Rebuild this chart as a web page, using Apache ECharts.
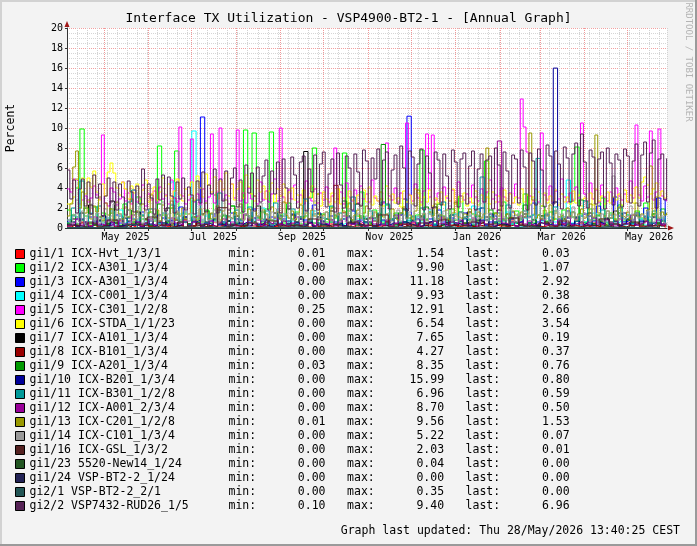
<!DOCTYPE html>
<html>
<head>
<meta charset="utf-8">
<script src="https://cdn.jsdelivr.net/npm/echarts@6/dist/echarts.min.js"></script>
<style>
  html, body { margin: 0; padding: 0; background: #f3f3f3; }
  #chart-panel { width: 697px; height: 546px; }
</style>
</head>
<body>
<div id="chart-panel"></div>
<script>
var DAY = 86400000;
var T0 = Date.UTC(2025, 3, 5, 5, 0);     // graph start
var TEND = Date.UTC(2026, 4, 28, 11, 40); // graph end (13:40 CEST)

var monthStarts = ['2025-05-01', '2025-06-01', '2025-07-01', '2025-08-01', '2025-09-01', '2025-10-01',
  '2025-11-01', '2025-12-01', '2026-01-01', '2026-02-01', '2026-03-01', '2026-04-01', '2026-05-01'];
var labelDates = ['2025-05-16', '2025-07-16', '2025-09-16', '2025-11-16', '2026-01-16', '2026-03-16', '2026-05-16'];
var monthNames = ['Jan', 'Feb', 'Mar', 'Apr', 'May', 'Jun', 'Jul', 'Aug', 'Sep', 'Oct', 'Nov', 'Dec'];

var names = ['gi1/1 ICX-Hvt_1/3/1', 'gi1/2 ICX-A301_1/3/4', 'gi1/3 ICX-A301_1/3/4', 'gi1/4 ICX-C001_1/3/4',
  'gi1/5 ICX-C301_1/2/8', 'gi1/6 ICX-STDA_1/1/23', 'gi1/7 ICX-A101_1/3/4', 'gi1/8 ICX-B101_1/3/4',
  'gi1/9 ICX-A201_1/3/4', 'gi1/10 ICX-B201_1/3/4', 'gi1/11 ICX-B301_1/2/8', 'gi1/12 ICX-A001_2/3/4',
  'gi1/13 ICX-C201_1/2/8', 'gi1/14 ICX-C101_1/3/4', 'gi1/16 ICX-GSL_1/3/2', 'gi1/23 5520-New14_1/24',
  'gi1/24 VSP-BT2-2_1/24', 'gi2/1 VSP-BT2-2_2/1', 'gi2/2 VSP7432-RUD26_1/5'];
var colors = ['#ff0000', '#00ff00', '#0000ff', '#00ffff', '#ff00ff', '#ffff00', '#000000', '#990000',
  '#009900', '#000099', '#009999', '#990099', '#999900', '#999999', '#552222', '#225522',
  '#222255', '#225555', '#552255'];
var mins = ['0.01', '0.00', '0.00', '0.00', '0.25', '0.00', '0.00', '0.00', '0.03', '0.00',
  '0.00', '0.00', '0.01', '0.00', '0.00', '0.00', '0.00', '0.00', '0.10'];
var maxs = ['1.54', '9.90', '11.18', '9.93', '12.91', '6.54', '7.65', '4.27', '8.35', '15.99',
  '6.96', '8.70', '9.56', '5.22', '2.03', '0.04', '0.00', '0.35', '9.40'];
var lasts = ['0.03', '1.07', '2.92', '0.38', '2.66', '3.54', '0.19', '0.37', '0.76', '0.80',
  '0.59', '0.50', '1.53', '0.07', '0.01', '0.00', '0.00', '0.00', '6.96'];

// sample spacing in days for each series
var steps = [3, 3, 3, 3, 2, 2, 3, 3, 3, 3, 3, 3, 2, 2, 7, 7, 7, 7, 2];

var gi1_1 = [0.2,0.4,0.1,0.6,0.3,0.2,0.5,0.1,0.3,0.2, 0.4,0.1,0.7,0.2,0.3,0.1,0.5,0.2,0.4,0.1,
  0.3,0.6,0.2,0.1,0.4,0.2,0.3,0.8,0.1,0.2, 0.5,0.2,0.1,0.3,0.6,0.2,0.4,0.1,0.3,0.2,
  0.1,0.4,0.2,0.5,0.1,0.3,0.9,0.2,0.1,0.4, 0.2,0.3,0.1,0.6,0.2,0.4,0.1,0.3,0.5,0.2,
  0.1,0.4,0.2,0.3,1.54,0.2,0.1,0.5,0.3,0.2, 0.4,0.1,0.3,0.2,0.6,0.1,0.2,0.4,0.3,0.1,
  0.5,0.2,0.1,0.3,0.2,0.7,0.1,0.4,0.2,0.3, 0.1,0.5,0.2,0.3,0.1,0.4,0.6,0.2,0.1,0.3,
  0.2,0.4,0.1,0.8,0.2,0.3,0.1,0.5,0.2,0.4, 0.1,0.3,0.6,0.2,0.1,0.4,0.2,0.3,0.9,0.1,
  0.3,0.2,0.5,0.1,0.4,0.2,0.3,0.6,0.2,0.4, 0.8,0.3,0.5,0.2,0.7,0.4,0.6,0.3,0.5,0.03];
var gi1_2 = [1.8,0.6,4.0,9.9,1.2,0.4,2.1,0.7,1.5,0.5, 1.9,0.8,0.3,2.4,1.1,0.6,3.1,0.9,0.4,1.6,
  0.7,8.2,1.3,0.5,2.0,7.7,0.8,1.4,0.4,2.7, 1.0,0.6,1.8,0.9,3.3,0.5,1.2,0.7,2.2,0.4,
  1.5,9.8,0.8,9.5,1.1,0.6,1.9,9.6,0.7,1.3, 0.5,2.5,0.9,1.6,0.4,1.2,3.0,8.0,0.8,1.4,
  0.6,2.1,1.0,0.5,7.5,1.7,0.7,1.2,3.6,0.9, 0.4,1.8,1.1,0.6,2.3,0.8,1.5,0.5,2.9,1.0,
  0.7,1.3,7.8,0.9,1.6,0.4,2.4,1.2,0.6,1.9, 0.8,3.2,1.1,0.5,1.4,0.7,2.0,6.7,0.9,1.5,
  0.6,2.6,1.0,0.4,1.7,0.8,3.4,1.2,0.5,1.3, 2.2,0.7,1.6,0.9,0.4,1.8,1.1,2.7,8.1,1.4,
  0.6,1.9,0.8,1.2,3.0,0.5,1.5,0.9,2.3,0.7, 1.3,0.6,1.7,1.0,2.5,0.8,1.4,0.5,1.9,1.07];
var gi1_3 = [0.6,0.3,0.9,0.2,0.5,1.1,0.4,0.7,0.2,0.8, 0.3,1.3,0.5,0.2,0.6,0.9,0.3,1.6,0.4,0.7,
  0.2,0.5,1.0,0.3,0.8,0.4,2.1,0.6,0.3,0.9, 0.5,11.1,0.4,0.7,1.2,0.3,0.6,0.2,1.5,0.4,
  0.8,0.3,0.6,1.9,0.4,0.7,0.2,1.1,0.5,0.3, 0.9,0.4,1.4,0.6,0.2,0.8,0.5,2.3,0.3,0.7,
  0.4,1.2,0.6,0.3,0.9,0.5,1.7,0.4,0.8,0.2, 0.6,1.0,0.3,2.6,0.5,0.8,0.4,1.3,0.6,11.18,
  0.7,0.3,1.1,0.5,0.9,0.2,1.8,0.6,0.4,1.0, 0.3,0.7,1.5,0.4,0.8,0.5,2.0,0.3,0.6,1.2,
  0.4,0.9,0.3,1.6,0.5,0.7,0.2,1.1,2.5,0.6, 0.4,1.3,0.8,0.3,0.9,0.5,1.7,0.4,1.0,0.6,
  1.4,0.3,0.7,2.2,0.5,0.9,0.4,3.1,1.2,0.6, 0.8,0.4,1.5,0.7,2.0,0.5,1.1,3.0,0.8,2.92];
var gi1_4 = [0.5,1.2,4.9,0.8,0.3,1.5,0.6,0.2,1.0,0.4, 0.7,0.3,1.8,0.5,0.2,0.9,0.4,1.3,0.6,0.3,
  1.1,0.5,0.2,0.8,4.6,0.4,1.4,0.6,0.3,9.7, 0.9,0.4,1.2,0.2,0.7,1.6,0.5,0.3,1.0,0.6,
  0.2,1.3,0.4,0.8,0.3,2.0,0.6,0.2,0.9,0.5, 1.4,0.3,0.7,0.4,1.1,0.2,0.8,1.7,0.5,0.3,
  0.9,0.6,1.2,0.3,0.5,2.4,0.4,0.8,0.2,1.0, 0.6,0.3,1.5,0.7,0.4,0.9,0.2,1.3,0.5,0.8,
  0.3,1.1,0.6,0.2,1.8,0.4,0.7,0.3,1.0,0.5, 1.4,0.6,0.3,0.9,2.2,0.4,0.7,0.2,1.2,0.5,
  0.3,0.8,1.6,0.4,0.6,0.2,1.0,0.5,1.3,0.3, 0.7,0.4,1.1,0.6,0.2,0.9,4.8,0.5,0.3,1.2,
  0.6,0.4,1.5,0.3,0.8,0.2,1.0,0.5,0.7,0.3, 1.3,0.4,0.6,0.9,0.3,1.1,0.5,0.2,0.7,0.38];
var gi1_5 = [3.9,3.6,4.9,4.7,2.4,2.8,3.2,2.6,3.0,4.2, 3.3,2.9,9.3,2.5,2.2,4.0,3.6,2.3,2.9,4.6,
  2.7,3.5,2.4,3.8,2.6,3.1,4.3,2.2,3.4,2.8, 3.7,2.5,4.1,2.9,3.3,2.4,4.8,3.0,2.6,10.1,
  3.2,2.4,2.8,8.9,2.6,3.4,2.3,3.9,2.7,3.1, 9.4,2.5,3.6,10.0,2.8,3.3,2.4,4.4,3.0,9.8,
  2.7,3.5,2.5,4.0,2.9,3.2,2.4,4.6,2.8,3.7, 2.6,3.4,4.9,2.7,10.0,3.1,2.5,3.8,2.9,4.3,
  2.6,3.3,2.4,4.7,3.0,2.7,3.9,2.5,3.5,2.8, 4.1,2.6,3.2,8.0,2.9,3.6,2.4,4.5,3.1,2.7,
  3.8,2.5,4.2,2.9,3.4,2.6,4.8,3.0,2.7,3.6, 2.5,8.5,3.2,2.8,4.0,2.6,3.5,2.9,10.5,3.3,
  2.7,4.4,3.0,2.6,3.7,9.4,3.1,9.3,2.8,3.5, 2.6,4.1,3.0,2.7,3.8,2.5,4.6,3.2,2.8,3.4,
  2.6,4.3,3.1,2.7,3.9,2.5,3.6,4.8,2.9,3.3, 2.6,4.0,3.1,2.7,3.5,2.5,4.4,3.0,12.9,10.1,
  7.6,3.2,2.7,3.9,2.6,9.5,3.3,2.8,4.2,2.6, 3.7,2.9,4.9,3.1,2.6,3.5,2.8,4.1,3.0,10.5,
  3.4,2.7,4.5,2.9,3.8,2.6,4.3,3.1,2.7,3.6, 2.5,4.0,3.2,2.8,3.4,2.6,4.7,3.0,10.3,3.3,
  2.7,4.2,3.1,9.7,2.8,3.6,9.9,3.2,2.9,2.66];
var gi1_6 = [2.4,2.6,3.1,4.9,2.3,5.0,3.4,5.0,4.1,5.7, 3.6,2.8,4.4,3.2,5.6,6.5,5.5,4.0,3.3,4.6,
  3.9,2.9,4.2,3.5,4.4,2.7,3.8,4.8,2.6,3.4, 4.1,2.8,3.6,5.0,3.2,4.4,2.9,3.7,4.9,3.3,
  2.7,3.9,3.3,4.6,2.8,5.2,4.0,3.1,5.4,4.3, 3.6,5.1,2.9,4.7,3.8,5.5,3.2,4.4,2.8,3.9,
  4.6,3.0,5.3,4.1,3.4,2.7,4.8,3.6,4.2,2.9, 3.7,4.5,2.6,3.9,3.2,4.4,2.5,3.6,4.0,2.8,
  3.3,2.4,3.8,2.7,3.1,4.2,2.5,3.4,2.2,3.6, 2.9,2.3,3.5,2.6,3.9,2.4,3.0,2.1,3.7,2.8,
  2.4,3.3,2.2,3.8,2.6,4.1,2.3,3.2,2.7,3.6, 2.2,4.2,2.8,3.4,2.5,3.0,2.1,3.7,2.6,3.3,
  2.4,3.9,3.5,2.3,3.1,2.6,3.8,2.2,3.0,2.5, 3.6,2.3,3.2,2.7,3.9,2.4,3.1,2.6,3.5,2.2,
  3.0,2.5,3.7,2.3,3.3,2.8,3.1,2.4,3.6,2.6, 3.2,2.2,3.8,2.7,3.4,2.5,3.1,2.3,3.9,2.6,
  3.3,2.4,3.1,2.8,3.6,2.2,3.5,2.5,3.2,2.7, 3.8,2.3,3.4,2.6,3.1,2.4,3.7,2.5,3.3,2.2,
  3.0,2.6,3.5,2.3,3.9,2.7,3.2,2.4,3.6,2.5, 3.1,2.8,3.4,2.3,3.8,2.6,3.3,2.5,4.1,3.0,
  4.6,5.1,4.3,3.4,3.9,4.5,3.2,3.7,3.0,3.54];
var gi1_7 = [0.4,0.9,0.2,1.5,0.6,2.3,0.3,0.8,1.2,0.4, 2.7,0.5,0.2,1.0,0.7,0.3,1.6,0.4,0.9,0.2,
  1.3,0.6,0.3,2.0,0.5,0.8,0.2,1.1,0.4,0.7, 0.3,1.4,0.6,0.2,0.9,1.8,0.4,0.7,0.3,1.2,
  0.5,0.2,1.0,0.6,2.2,0.3,0.8,0.4,1.5,0.2, 0.7,0.4,1.3,0.3,0.9,7.65,0.5,0.2,1.1,0.6,
  0.3,1.7,0.4,0.8,0.2,1.2,0.5,2.4,0.3,0.9, 0.6,0.2,1.4,0.4,0.7,0.3,1.0,0.5,1.9,0.2,
  0.8,0.4,1.2,0.3,0.6,2.1,0.2,0.9,0.5,1.3, 0.3,0.7,0.4,1.6,0.2,0.8,0.5,1.1,0.3,0.6,
  1.8,0.4,0.2,1.0,0.6,0.3,1.4,0.5,0.8,0.2, 1.2,0.4,0.7,2.6,0.3,0.9,0.5,0.2,1.1,0.6,
  0.3,1.5,0.4,0.8,0.2,1.0,0.6,1.7,0.3,0.5, 0.9,0.2,1.3,0.4,0.7,0.3,1.1,0.5,0.2,0.19];
var gi1_8 = [0.1,0.3,0.2,0.5,0.1,0.2,0.4,0.1,0.3,0.2, 0.6,0.1,0.2,0.3,0.1,0.4,0.2,0.1,0.5,0.2,
  0.1,0.3,0.2,0.7,0.1,0.2,0.4,0.1,0.3,0.2, 0.5,0.1,0.2,0.3,0.1,0.6,0.2,0.1,0.4,0.2,
  0.1,0.3,0.8,0.2,0.1,0.4,0.2,0.1,0.3,0.5, 0.2,0.1,0.4,0.2,0.1,0.3,0.6,0.2,0.1,0.4,
  0.2,0.1,4.27,0.3,0.2,0.1,0.5,0.2,0.1,0.3, 0.2,0.7,0.1,0.3,0.2,0.1,0.4,0.2,0.1,0.5,
  0.2,0.1,0.3,0.2,0.6,0.1,0.2,0.4,0.1,0.3, 0.2,0.1,0.5,0.2,0.1,0.3,0.2,0.8,0.1,0.2,
  0.4,0.1,0.2,0.3,0.1,0.5,0.2,0.1,0.3,0.2, 0.1,0.6,0.2,0.1,0.4,0.2,0.1,0.3,0.2,0.5,
  0.1,0.2,0.3,0.1,0.7,0.2,0.1,0.4,0.2,0.1, 0.3,0.2,0.5,0.1,0.2,0.4,0.1,0.3,0.2,0.37];
var gi1_9 = [0.5,1.3,0.4,0.8,2.0,0.6,0.3,1.1,0.7,0.4, 1.5,0.5,0.9,0.3,1.8,0.6,0.4,1.2,0.8,0.3,
  1.0,2.4,0.5,0.7,0.3,1.4,0.6,0.9,0.4,1.1, 0.6,0.3,1.7,0.5,0.8,0.4,1.3,0.7,2.2,0.5,
  0.9,0.4,1.2,0.6,0.3,1.6,0.5,0.8,0.4,1.0, 0.7,1.9,0.3,0.6,1.1,0.4,0.8,0.5,1.4,0.3,
  0.9,0.6,1.3,0.4,2.7,0.5,0.8,0.3,1.2,0.6, 0.4,1.0,0.7,8.35,0.5,0.9,0.3,1.5,0.6,0.4,
  1.1,0.5,0.8,2.1,0.4,0.7,1.3,0.3,0.9,0.6, 0.4,1.6,0.5,0.8,0.3,1.2,0.7,0.4,1.8,0.5,
  0.9,0.3,1.4,0.6,0.4,1.0,2.3,0.5,0.8,0.3, 1.2,0.6,0.4,1.7,0.5,0.9,0.3,1.1,0.7,2.8,
  0.5,0.8,0.4,1.3,0.6,0.3,1.0,0.7,1.5,0.4, 0.8,0.5,1.2,0.3,0.9,0.6,1.4,0.4,0.7,0.76];
var gi1_10 = [0.3,0.6,0.2,0.9,0.4,0.1,0.7,0.3,1.2,0.2, 0.5,0.8,0.2,0.4,1.0,0.3,0.6,0.1,0.9,0.4,
  0.2,1.3,0.5,0.3,0.7,0.2,0.4,1.1,0.3,0.6, 0.8,0.2,0.5,0.3,1.4,0.4,0.2,0.7,0.3,0.9,
  0.4,0.6,0.2,1.0,0.3,0.5,0.8,0.2,0.4,1.2, 0.3,0.7,0.2,0.5,0.9,0.3,0.6,0.2,1.5,0.4,
  0.2,0.8,0.3,0.5,0.2,1.1,0.4,0.7,0.3,0.6, 1.0,0.2,0.4,0.8,0.3,0.5,1.3,0.2,0.6,0.4,
  0.3,0.9,0.2,0.5,0.7,0.3,1.2,0.4,0.2,0.8, 0.5,0.3,1.0,0.2,0.6,0.4,0.8,0.3,1.4,0.2,
  0.7,0.4,0.3,0.9,0.2,0.6,1.1,0.3,0.5,0.2, 0.8,0.4,0.3,15.99,0.6,0.2,1.0,0.4,0.7,0.3,
  0.5,1.2,0.2,0.6,0.4,0.9,0.3,0.7,0.2,1.5, 0.4,0.8,0.3,0.6,1.1,0.2,0.5,0.9,0.4,0.80];
var gi1_11 = [0.8,2.0,1.1,4.7,0.6,1.4,0.9,2.2,0.5,1.0, 1.7,0.7,1.2,0.4,2.6,3.8,0.8,1.3,0.5,1.9,
  0.9,0.4,1.5,0.7,2.3,1.0,0.6,1.6,0.3,1.1, 2.8,0.8,0.5,1.4,0.9,3.5,0.6,1.2,0.4,1.8,
  0.7,1.3,2.1,0.5,1.0,0.8,1.7,0.4,2.5,0.9, 1.2,0.6,1.9,0.3,1.1,2.9,0.7,1.4,0.5,1.0,
  0.8,2.2,0.4,1.5,0.9,1.2,3.1,0.6,1.0,0.5, 1.7,0.8,1.3,0.4,2.4,0.9,1.1,0.6,1.8,0.7,
  1.2,0.5,2.0,0.8,1.4,0.3,1.0,2.6,0.7,1.3, 0.5,1.6,0.9,1.2,0.4,1.9,5.1,0.8,1.1,0.6,
  1.5,0.7,2.3,0.4,1.0,0.8,1.7,0.5,1.3,6.96, 0.9,1.4,0.6,2.1,0.8,1.1,0.4,1.6,0.7,1.2,
  2.7,0.5,1.0,0.8,1.8,0.6,1.3,0.4,2.0,0.9, 1.1,0.5,1.5,0.8,1.2,0.4,1.7,0.7,1.0,0.59];
var gi1_12 = [0.2,0.5,0.9,0.3,0.6,0.2,1.1,0.4,0.3,0.7, 0.5,0.2,0.8,0.4,0.3,1.3,0.6,0.2,0.5,0.9,
  0.3,0.7,0.2,0.4,1.0,0.5,0.3,0.8,0.2,0.6, 1.2,0.4,0.3,0.7,0.2,0.5,0.9,0.3,0.6,0.2,
  0.4,1.4,0.5,0.3,0.8,0.2,0.6,0.4,1.0,0.3, 0.7,0.2,0.5,1.1,0.3,0.6,0.4,0.2,0.9,0.5,
  0.3,0.8,0.2,0.6,1.2,0.4,0.3,0.7,0.5,0.2, 1.0,0.4,0.6,0.3,0.8,0.2,0.5,1.3,0.4,0.3,
  0.6,0.2,0.9,0.5,0.3,0.7,0.4,1.1,0.2,0.6, 0.4,0.8,0.3,0.5,1.0,0.2,0.7,0.4,0.3,0.9,
  8.7,0.5,0.3,0.6,0.2,1.2,0.4,0.7,0.3,0.5, 0.9,0.3,0.6,0.2,0.8,0.4,1.1,0.3,0.5,0.7,
  0.2,0.6,1.0,0.4,0.3,0.8,0.5,0.2,0.9,0.4, 0.6,1.3,0.3,0.5,0.7,0.2,0.4,0.8,0.3,0.50];
var gi1_13 = [1.2,2.4,6.1,7.7,2.0,3.6,1.5,2.8,0.9,2.2, 1.6,3.1,0.8,2.5,1.3,1.9,0.7,2.6,1.4,0.9,
  2.1,1.1,2.9,0.8,1.7,1.2,2.4,0.9,1.5,3.3, 1.0,1.8,0.7,2.3,1.3,1.0,2.7,0.8,1.6,1.2,
  2.0,0.9,1.4,3.0,1.1,0.8,1.9,1.3,2.5,0.9, 1.5,1.0,2.2,0.8,1.7,2.8,1.1,0.9,1.6,1.2,
  2.4,0.8,1.3,1.9,1.0,3.2,1.2,0.9,1.8,1.4, 0.8,2.1,1.1,1.6,0.9,2.6,1.3,1.0,1.7,0.8,
  1.4,2.3,1.0,1.5,0.9,1.8,1.2,3.4,0.9,1.3, 1.6,0.8,2.0,1.1,1.4,0.9,1.7,1.2,2.5,0.8,
  1.3,1.8,1.0,1.5,2.2,0.9,1.2,1.6,0.8,2.9, 1.1,1.4,0.9,1.9,1.2,0.8,1.5,2.1,1.0,1.3,
  0.9,1.7,3.8,1.1,1.4,0.8,1.6,1.2,2.4,0.9, 1.3,1.0,1.8,0.8,1.5,2.6,1.1,0.9,1.4,1.2,
  1.9,0.8,1.3,1.6,1.0,1.4,8.0,1.1,0.9,1.5, 1.2,2.2,0.8,1.4,1.0,1.7,1.3,0.9,1.6,1.1,
  1.4,9.5,2.8,1.0,1.3,0.9,1.8,1.2,2.3,0.8, 1.5,1.1,1.3,0.9,2.0,1.2,1.6,0.8,1.4,1.9,
  1.0,1.3,2.4,1.1,9.3,1.5,0.9,1.2,1.7,1.0, 1.4,0.8,2.1,1.2,1.0,1.6,0.9,1.3,2.5,1.1,
  1.4,0.9,1.8,6.2,1.2,3.1,1.0,1.6,1.3,1.53];
var gi1_14 = [0.8,0.5,1.2,2.8,0.6,1.7,0.4,1.3,2.1,0.7, 1.5,0.5,1.0,1.9,0.6,1.2,2.4,0.8,1.4,0.5,
  1.1,1.8,0.6,1.3,0.9,2.2,0.5,1.6,1.0,0.7, 1.9,0.6,1.2,2.6,0.8,1.4,0.5,1.1,1.7,0.6,
  1.3,2.0,0.7,1.5,0.9,1.1,2.3,0.6,1.4,0.8, 1.0,1.8,0.5,1.2,2.9,0.7,1.5,0.9,1.3,0.6,
  2.1,0.8,1.4,1.0,1.7,0.5,1.2,2.5,0.7,1.3, 0.9,1.6,0.6,1.9,1.1,0.7,1.4,2.2,0.8,1.0,
  1.5,0.6,1.3,1.8,0.7,1.1,2.7,0.9,1.2,0.5, 1.6,1.0,0.7,2.0,1.3,0.8,1.5,0.6,1.9,1.1,
  0.7,1.4,2.3,0.8,1.2,0.6,1.7,1.0,0.5,2.1, 1.3,0.8,1.5,0.6,1.1,1.8,0.7,1.3,0.9,1.6,
  2.4,0.7,1.2,0.9,1.5,0.6,1.9,1.1,0.8,1.4, 0.6,1.7,1.0,2.2,0.8,1.3,0.7,1.6,1.1,0.9,
  1.4,0.6,1.8,1.0,1.2,2.6,0.7,1.5,0.9,1.3, 0.7,1.6,1.1,0.8,2.0,1.2,0.6,1.4,0.9,1.7,
  1.0,2.3,0.7,1.3,2.5,1.1,0.8,1.5,0.6,1.2, 1.8,0.9,1.4,0.7,1.6,1.0,2.1,0.8,1.3,0.6,
  1.5,1.1,0.7,1.9,1.2,0.8,1.4,0.6,1.7,1.0, 5.2,1.3,0.8,1.6,0.9,1.2,2.2,0.7,1.5,1.0,
  1.3,0.8,1.7,1.1,0.6,1.4,0.9,1.2,0.5,0.07];
var gi1_16 = [0.3,0.1,0.5,0.2,0.8,0.1,0.4,0.2,1.1,0.3, 0.1,0.6,0.2,0.4,0.1,2.03,0.3,0.2,0.5,0.1,
  0.7,0.2,0.3,0.1,0.9,0.2,0.4,0.1,0.6,0.3, 0.2,1.3,0.1,0.4,0.2,0.5,0.1,0.8,0.3,0.2,
  0.6,0.1,0.4,0.2,1.0,0.3,0.1,0.5,0.2,0.7, 0.1,0.3,0.2,0.9,0.4,0.1,0.6,0.2,0.3,0.01];
var gi1_23 = [0,0.01,0,0.02,0,0,0.01,0,0.04,0, 0.01,0,0,0.02,0,0.01,0,0,0.03,0,
  0.01,0,0.02,0,0,0.01,0,0.02,0,0, 0.01,0,0.03,0,0.01,0,0,0.02,0,0.01,
  0,0,0.02,0,0.01,0,0.03,0,0,0.01, 0,0.02,0,0,0.01,0,0.02,0,0.01,0];
var gi1_24 = [0,0,0,0,0,0,0,0,0,0, 0,0,0,0,0,0,0,0,0,0, 0,0,0,0,0,0,0,0,0,0,
  0,0,0,0,0,0,0,0,0,0, 0,0,0,0,0,0,0,0,0,0, 0,0,0,0,0,0,0,0,0,0];
var gi2_1 = [0.05,0.1,0.02,0.15,0.04,0.08,0.35,0.03,0.1,0.06, 0.02,0.12,0.05,0.09,0.03,0.2,0.04,0.07,0.02,0.11,
  0.05,0.03,0.14,0.06,0.02,0.09,0.04,0.18,0.03,0.07, 0.05,0.1,0.02,0.13,0.04,0.06,0.03,0.16,0.05,0.08,
  0.02,0.11,0.04,0.07,0.03,0.22,0.05,0.09,0.02,0.12, 0.04,0.06,0.03,0.15,0.05,0.08,0.02,0.1,0.04,0];
var gi2_2 = [5.8,2.9,4.8,1.5,3.9,4.9,2.2,4.6,1.4,5.3, 3.0,4.4,1.2,3.2,5.0,2.6,4.6,1.8,4.4,3.1,
  1.3,4.7,3.6,1.6,4.2,2.4,5.9,1.8,4.4,3.0, 1.4,4.9,2.8,5.3,1.7,5.1,3.2,1.5,4.6,2.9,
  5.0,1.8,4.1,3.3,1.4,4.7,2.5,5.6,1.6,4.3, 3.4,5.9,1.5,4.9,2.7,5.7,1.8,5.0,6.0,2.1,
  4.8,1.6,6.3,3.5,5.5,1.7,6.1,2.6,5.2,6.8, 1.8,5.7,3.4,6.6,1.5,6.9,4.0,1.9,7.1,5.3,
  2.0,6.6,7.2,1.7,5.9,3.6,7.3,1.8,6.4,7.6, 2.1,5.4,6.9,1.6,7.5,4.3,2.0,7.2,6.0,1.8,
  7.4,5.6,2.2,7.8,6.7,1.9,7.0,4.9,7.9,2.3, 6.8,7.6,1.9,5.8,7.3,2.4,8.2,6.0,1.7,7.7,
  7.1,2.2,6.4,7.9,1.8,7.2,5.5,2.0,7.6,6.8, 2.3,7.4,5.2,1.9,7.8,6.6,2.1,6.9,7.5,2.4,
  6.2,7.7,1.8,5.9,7.4,2.6,6.8,7.2,1.9,8.0, 6.3,2.2,7.6,5.7,2.0,7.3,6.9,2.5,7.8,6.1,
  1.8,7.5,6.7,2.3,7.9,5.8,2.1,8.3,7.2,2.4, 7.7,6.4,1.9,8.1,7.0,2.6,7.4,8.5,2.2,9.4,
  6.6,2.0,7.8,7.1,2.4,6.9,7.6,1.9,8.0,6.5, 2.3,7.4,6.8,2.1,7.9,7.2,2.5,6.7,8.4,2.2,
  7.3,8.6,2.6,7.5,8.8,2.0,6.9,7.4,2.8,6.96];

var values = [gi1_1, gi1_2, gi1_3, gi1_4, gi1_5, gi1_6, gi1_7, gi1_8, gi1_9, gi1_10,
  gi1_11, gi1_12, gi1_13, gi1_14, gi1_16, gi1_23, gi1_24, gi2_1, gi2_2];

var MONO = 'DejaVu Sans Mono';
var chart = document.getElementById('chart-panel');
var myChart = echarts.init(chart);

function toPoints(vals, stepDays) {
  return vals.map(function (v, i) { return [T0 + i * stepDays * DAY, v]; });
}

// right-align a value inside a fixed number of monospace cells
function pad(s, n) {
  while (s.length < n) s = ' ' + s;
  return s;
}

var series = names.map(function (name, i) {
  return {
    name: name,
    type: 'line',
    step: 'end',
    showSymbol: false,
    symbol: 'none',
    silent: true,
    color: colors[i],
    lineStyle: { width: 1, color: colors[i] },
    data: toPoints(values[i], steps[i])
  };
});

var gridDash = [1, 1];

var option = {
  backgroundColor: '#f3f3f3',
  animation: false,
  title: [
    {
      text: 'Interface TX Utilization - VSP4900-BT2-1 - [Annual Graph]',
      left: 'center',
      top: 12,
      padding: 0,
      textStyle: { fontFamily: MONO, fontSize: 13, fontWeight: 'normal', color: '#000' }
    },
    {
      text: 'Graph last updated: Thu 28/May/2026 13:40:25 CEST',
      right: 17,
      top: 525,
      padding: 0,
      textStyle: { fontFamily: MONO, fontSize: 11.5, fontWeight: 'normal', color: '#000' }
    }
  ],
  grid: {
    left: 67, top: 28, width: 600, height: 200,
    containLabel: false,
    outerBoundsMode: 'none',
    show: true, backgroundColor: '#ffffff', borderWidth: 0
  },
  xAxis: [
    {
      // weekly minor grid + axis line
      type: 'value',
      min: T0, max: TEND,
      interval: 7 * DAY,
      axisLine: { show: true, lineStyle: { color: '#333', width: 1 } },
      axisTick: { show: false },
      axisLabel: { show: false },
      splitLine: { show: true, lineStyle: { color: '#d2d2d2', type: gridDash, width: 1 } }
    },
    {
      // month ticks, labels and arrow
      type: 'value',
      min: T0, max: TEND,
      interval: 7 * DAY,
      position: 'bottom',
      axisLine: {
        show: true,
        symbol: ['none', 'triangle'],
        symbolSize: [5, 6],
        symbolOffset: [0, 4],
        lineStyle: { color: '#a01818', width: 0 }
      },
      axisTick: {
        show: true, length: 3,
        lineStyle: { color: '#333' },
        customValues: monthStarts.map(function (d) { return Date.parse(d); })
      },
      axisLabel: {
        show: true,
        margin: 4,
        color: '#000',
        fontFamily: MONO,
        fontSize: 10,
        customValues: labelDates.map(function (d) { return Date.parse(d); }),
        formatter: function (v) {
          var d = new Date(v);
          return monthNames[d.getUTCMonth()] + ' ' + d.getUTCFullYear();
        }
      },
      splitLine: { show: false }
    },
    {
      // monthly major grid (red dotted)
      type: 'time',
      min: T0, max: TEND,
      minInterval: 28 * DAY,
      maxInterval: 31 * DAY,
      position: 'bottom',
      axisLine: { show: false },
      axisTick: { show: false },
      axisLabel: { show: false },
      splitLine: {
        show: true, showMinLine: false, showMaxLine: false,
        lineStyle: { color: '#f09898', type: gridDash, width: 1 }
      }
    }
  ],
  yAxis: [
    {
      type: 'value',
      min: 0, max: 20, interval: 2,
      name: 'Percent',
      nameLocation: 'middle',
      nameGap: 50,
      nameRotate: 90,
      nameTextStyle: { fontFamily: MONO, fontSize: 11.5, color: '#000' },
      axisLine: { show: true, lineStyle: { color: '#333', width: 1 } },
      axisTick: { show: true, length: 2, lineStyle: { color: '#333' } },
      axisLabel: { color: '#000', fontFamily: MONO, fontSize: 10, margin: 4 },
      splitLine: { show: true, lineStyle: { color: '#f2a0a0', type: gridDash, width: 1 } },
      minorTick: { show: false, splitNumber: 4 },
      minorSplitLine: { show: true, lineStyle: { color: '#d6d6d6', type: gridDash, width: 1 } }
    },
    {
      type: 'value',
      min: 0, max: 20,
      position: 'left',
      axisLine: {
        show: true,
        symbol: ['none', 'triangle'],
        symbolSize: [5, 6],
        symbolOffset: [0, 4],
        lineStyle: { color: '#a01818', width: 0 }
      },
      axisTick: { show: false },
      axisLabel: { show: false },
      splitLine: { show: false }
    }
  ],
  legend: {
    orient: 'vertical',
    left: 15,
    top: 247,
    padding: 0,
    itemWidth: 9,
    itemHeight: 9,
    itemGap: 0,
    icon: 'rect',
    selectedMode: false,
    data: names,
    itemStyle: { borderColor: '#000', borderWidth: 1 },
    textStyle: {
      fontFamily: MONO, fontSize: 11.5, color: '#000', lineHeight: 14,
      rich: {
        n: { width: 199, fontFamily: MONO, fontSize: 11.5, lineHeight: 14 },
        a: { width: 55.5, fontFamily: MONO, fontSize: 11.5, lineHeight: 14 },
        v: { fontFamily: MONO, fontSize: 11.5, lineHeight: 14 },
        g: { width: 21.5, fontFamily: MONO, fontSize: 11.5, lineHeight: 14 },
        c: { width: 62.5, fontFamily: MONO, fontSize: 11.5, lineHeight: 14 }
      }
    },
    formatter: function (name) {
      var i = names.indexOf(name);
      return '{n|' + name + '}{a|min:}{v|' + pad(mins[i], 6) + '}{g| }{a|max:}{v|' + pad(maxs[i], 6) +
        '}{g| }{c|last:}{v|' + pad(lasts[i], 6) + '}';
    }
  },
  graphic: [
    { type: 'rect', shape: { x: 0, y: 0, width: 697, height: 2 }, style: { fill: '#d2d2d2' }, silent: true },
    { type: 'rect', shape: { x: 0, y: 0, width: 2, height: 546 }, style: { fill: '#d2d2d2' }, silent: true },
    { type: 'rect', shape: { x: 695, y: 0, width: 2, height: 546 }, style: { fill: '#9a9a9a' }, silent: true },
    { type: 'rect', shape: { x: 0, y: 544, width: 697, height: 2 }, style: { fill: '#9a9a9a' }, silent: true },
    {
      type: 'text', x: 688, y: 62, rotation: -Math.PI / 2, silent: true,
      style: {
        text: 'RRDTOOL / TOBI OETIKER', fill: '#b4b4b4',
        font: '9px ' + MONO, align: 'center', verticalAlign: 'middle'
      }
    }
  ],
  series: series
};

myChart.setOption(option);
</script>
</body>
</html>
